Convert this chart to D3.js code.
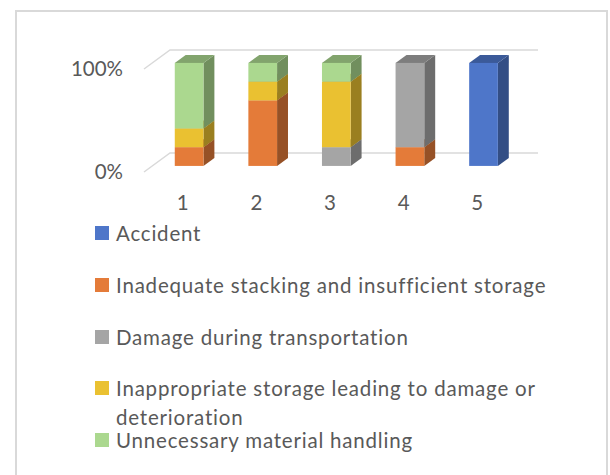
<!DOCTYPE html>
<html>
<head>
<meta charset="utf-8">
<script src="https://cdn.jsdelivr.net/npm/d3@7"></script>
<style>
  html, body { margin: 0; padding: 0; background: #fff; }
  svg { display: block; font-family: Lato, "Open Sans", sans-serif; }
</style>
</head>
<body>
<svg id="chart" width="610" height="475"></svg>
<script>
// Categories along the x axis
const categories = ["1", "2", "3", "4", "5"];

// Series, stacked bottom to top (counts per category)
const seriesNames = [
  "Accident",
  "Inadequate stacking and insufficient storage",
  "Damage during transportation",
  "Inappropriate storage leading to damage or deterioration",
  "Unnecessary material handling"
];
const accident      = [0, 0, 0, 0, 11];
const inadequate    = [2, 7, 0, 2, 0];
const damage        = [0, 0, 2, 9, 0];
const inappropriate = [2, 2, 7, 0, 0];
const unnecessary   = [7, 2, 2, 0, 0];
const seriesColors  = ["#4E76C9", "#E47B39", "#A5A5A5", "#EAC131", "#ABD88F"];

// Value axis ticks (100% stacked)
const tickValues = [0, 1];
const tickLabels = ["0%", "100%"];

const fontSize = 20.5;
const textColor = "#595959";

const svg = d3.select("#chart");

// outer frame
svg.append("rect")
  .attr("x", 16).attr("y", 11)
  .attr("width", 591).attr("height", 480)
  .attr("fill", "none").attr("stroke", "#D9D9D9").attr("stroke-width", 2);

// 3D frame: back wall plane, with an oblique depth offset towards the viewer
const wallLeft = 170, wallRight = 538;
const depthDx = -26, depthDy = 19;         // full floor depth (back -> front)
const barFront = 0.68, barBack = 0.26;      // bar depth span as fraction of floor depth

const x = d3.scaleBand().domain(categories).range([wallLeft, wallRight]);
const y = d3.scaleLinear().domain([0, 1]).range([153, 50]);
const barW = x.bandwidth() * 0.39;

// point on a plane at depth t (0 = back wall, 1 = floor front edge)
const P = (px, py, t) => [px + depthDx * t, py + depthDy * t];

// gridlines: along the back wall, plus the diagonal on the left side wall
const grid = svg.append("g");
tickValues.forEach(v => {
  const a = P(wallLeft, y(v), 1), b = P(wallLeft, y(v), 0), c = P(wallRight, y(v), 0);
  grid.append("polyline")
    .attr("points", [a, b, c].map(p => p.join(",")).join(" "))
    .attr("fill", "none").attr("stroke", "#D9D9D9").attr("stroke-width", 1.5);
});

// value axis labels at the front-left edge
svg.append("g").selectAll("text")
  .data(tickValues)
  .join("text")
  .attr("x", 123)
  .attr("y", (d) => P(wallLeft, y(d), 1)[1] + 6.5)
  .attr("text-anchor", "end")
  .attr("font-size", fontSize)
  .attr("fill", textColor)
  .text((d, i) => tickLabels[i]);

// category labels along the front floor edge
svg.append("g").selectAll("text")
  .data(categories)
  .join("text")
  .attr("x", d => x(d) + x.bandwidth() / 2 - 24)
  .attr("y", 210)
  .attr("text-anchor", "middle")
  .attr("font-size", fontSize)
  .attr("fill", textColor)
  .text(d => d);

// stack to percentages
const seriesValues = [accident, inadequate, damage, inappropriate, unnecessary];
const rows = categories.map((c, i) => {
  const r = { cat: c };
  seriesNames.forEach((s, k) => { r[s] = seriesValues[k][i]; });
  return r;
});
const stacked = d3.stack().keys(seriesNames).offset(d3.stackOffsetExpand)(rows);

const shade = (col, k) => {
  const c = d3.rgb(col);
  return d3.rgb(c.r * k, c.g * k, c.b * k).formatHex();
};

const bars = svg.append("g");
categories.forEach((cat, i) => {
  const bx = x(cat) + (x.bandwidth() - barW) / 2;   // left edge on the back-wall plane
  stacked.forEach((layer, k) => {
    const [v0, v1] = layer[i];
    if (v1 - v0 <= 0) return;
    const col = seriesColors[k];
    const g = bars.append("g");
    // side face (right)
    const s = [
      P(bx + barW, y(v0), barFront), P(bx + barW, y(v0), barBack),
      P(bx + barW, y(v1), barBack), P(bx + barW, y(v1), barFront)
    ];
    g.append("polygon").attr("points", s.map(p => p.join(",")).join(" "))
      .attr("fill", shade(col, 0.66));
    // top face
    const t = [
      P(bx, y(v1), barFront), P(bx + barW, y(v1), barFront),
      P(bx + barW, y(v1), barBack), P(bx, y(v1), barBack)
    ];
    g.append("polygon").attr("points", t.map(p => p.join(",")).join(" "))
      .attr("fill", shade(col, 0.76));
    // front face
    const f0 = P(bx, y(v1), barFront);
    g.append("rect")
      .attr("x", f0[0]).attr("y", f0[1])
      .attr("width", barW).attr("height", y(v0) - y(v1))
      .attr("fill", col);
  });
});

// legend, one entry per row
const legendRows = [
  { lines: ["Accident"], top: 226 },
  { lines: ["Inadequate stacking and insufficient storage"], top: 278 },
  { lines: ["Damage during transportation"], top: 330 },
  { lines: ["Inappropriate storage leading to damage or", "deterioration"], top: 381 },
  { lines: ["Unnecessary material handling"], top: 433 }
];
const legend = svg.append("g");
legendRows.forEach((r, k) => {
  legend.append("rect")
    .attr("x", 95).attr("y", r.top)
    .attr("width", 14).attr("height", 14)
    .attr("fill", seriesColors[k]);
  const txt = legend.append("text")
    .attr("x", 116).attr("y", r.top + 14.5)
    .attr("font-size", fontSize)
    .attr("letter-spacing", 0.8)
    .attr("fill", textColor);
  r.lines.forEach((ln, j) => {
    txt.append("tspan").attr("x", 116).attr("dy", j === 0 ? 0 : 29).text(ln);
  });
});
</script>
</body>
</html>
